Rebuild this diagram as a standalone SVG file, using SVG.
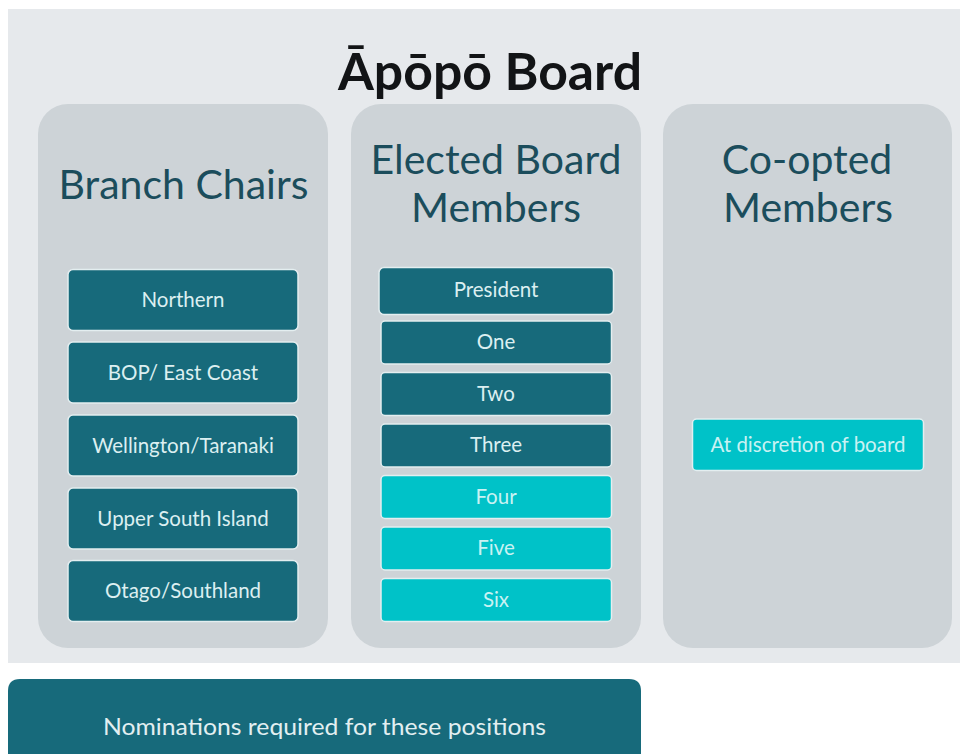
<svg xmlns="http://www.w3.org/2000/svg" width="960" height="754" viewBox="0 0 960 754">
<style>
.col{fill:#cdd3d7}
.dk{fill:#176a7b;stroke:#e4eef0;stroke-width:1.5}
.cy{fill:#00c2c8;stroke:#e4eef0;stroke-width:1.5}
.hd{font-family:Lato,"Open Sans",sans-serif;font-size:41px;fill:#1b4d5c;text-anchor:middle}
.bt{font-family:Lato,"Open Sans",sans-serif;font-size:20.5px;fill:#dceff1;text-anchor:middle}
.bc{font-family:Lato,"Open Sans",sans-serif;font-size:20.5px;fill:#c9f2f3;text-anchor:middle}
</style>
<rect x="0" y="0" width="960" height="754" fill="#ffffff"/>
<rect x="8" y="9" width="952" height="654" fill="#e6e9ec"/>
<text x="490" y="90" font-family="Lato,'Open Sans',sans-serif" font-size="51" font-weight="bold" fill="#121416" text-anchor="middle" textLength="304" lengthAdjust="spacingAndGlyphs">Āpōpō Board</text>
<g id="col-branch">
<rect class="col" x="38" y="104" width="290" height="544" rx="30"/>
<text class="hd" x="183.5" y="199">Branch Chairs</text>
</g>
<g id="col-elected">
<rect class="col" x="351" y="104" width="290" height="544" rx="30"/>
<text class="hd" x="496" y="174">Elected Board</text>
<text class="hd" x="496" y="222">Members</text>
</g>
<g id="col-coopted">
<rect class="col" x="663" y="104" width="289" height="544" rx="30"/>
<text class="hd" x="807" y="174">Co-opted</text>
<text class="hd" x="808" y="222">Members</text>
</g>
<g id="northern"><rect class="dk" x="68" y="269.5" width="230" height="61" rx="5"/><text class="bt" x="183" y="307">Northern</text></g>
<g id="bop"><rect class="dk" x="68" y="342" width="230" height="61" rx="5"/><text class="bt" x="183" y="379.5">BOP/ East Coast</text></g>
<g id="wellington"><rect class="dk" x="68" y="415" width="230" height="61" rx="5"/><text class="bt" x="183" y="452.5">Wellington/Taranaki</text></g>
<g id="usi"><rect class="dk" x="68" y="488" width="230" height="61" rx="5"/><text class="bt" x="183" y="525.5">Upper South Island</text></g>
<g id="otago"><rect class="dk" x="68" y="560.5" width="230" height="61" rx="5"/><text class="bt" x="183" y="598">Otago/Southland</text></g>
<g id="president"><rect class="dk" x="379" y="267.5" width="234.5" height="47" rx="5"/><text class="bt" x="496" y="297">President</text></g>
<g id="one"><rect class="dk" x="381" y="321" width="230.5" height="43" rx="4"/><text class="bt" x="496" y="349">One</text></g>
<g id="two"><rect class="dk" x="381" y="372.5" width="230.5" height="43" rx="4"/><text class="bt" x="496" y="400.5">Two</text></g>
<g id="three"><rect class="dk" x="381" y="424" width="230.5" height="43" rx="4"/><text class="bt" x="496" y="452">Three</text></g>
<g id="four"><rect class="cy" x="381" y="475.5" width="230.5" height="43" rx="4"/><text class="bc" x="496" y="503.5">Four</text></g>
<g id="five"><rect class="cy" x="381" y="527" width="230.5" height="43" rx="4"/><text class="bc" x="496" y="555">Five</text></g>
<g id="six"><rect class="cy" x="381" y="578.5" width="230.5" height="43" rx="4"/><text class="bc" x="496" y="606.5">Six</text></g>
<g id="discretion"><rect class="cy" x="692.5" y="419" width="231" height="51.5" rx="4"/><text class="bc" x="808" y="451.5">At discretion of board</text></g>
<g id="connectors"></g>
<g id="legend">
<path d="M8,691 Q8,679 20,679 L629,679 Q641,679 641,691 L641,754 L8,754 Z" fill="#176a7b"/>
<text x="324.5" y="735" font-family="Lato,'Open Sans',sans-serif" font-size="23" fill="#e2eff1" text-anchor="middle" textLength="443" lengthAdjust="spacingAndGlyphs">Nominations required for these positions</text>
</g>
</svg>
